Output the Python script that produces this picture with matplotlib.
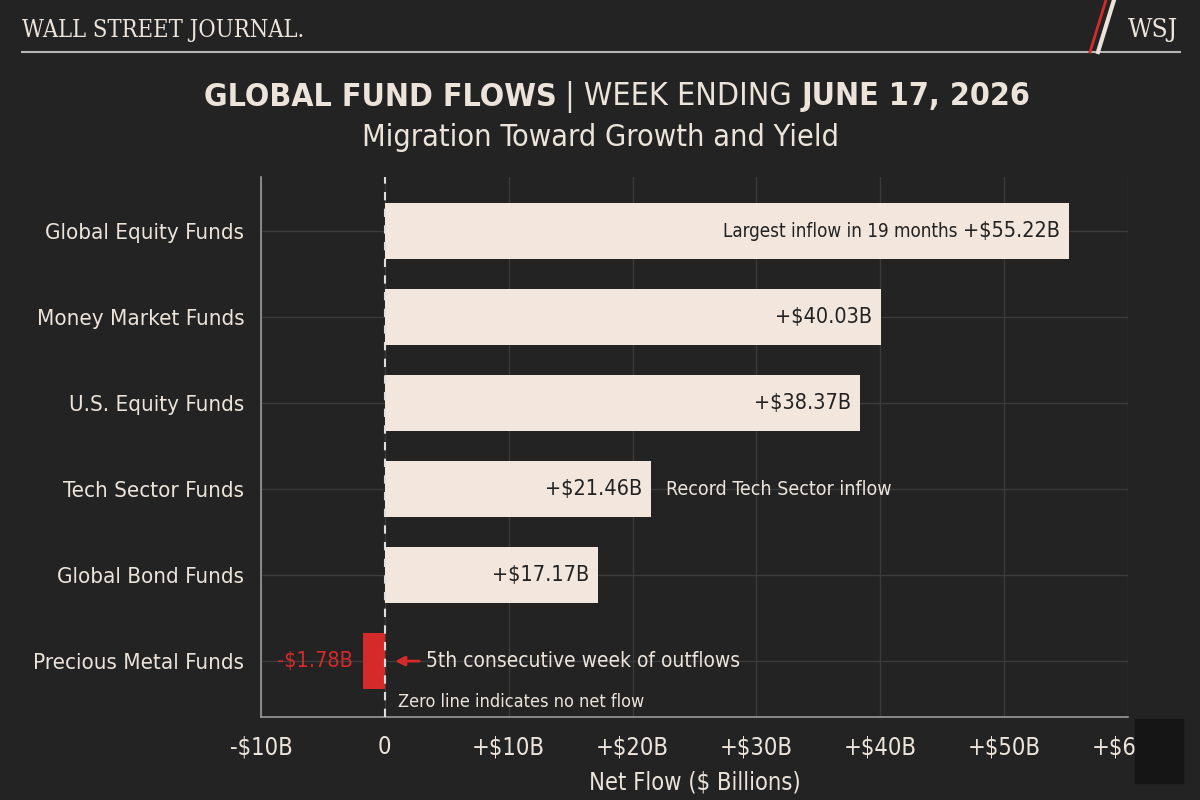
import matplotlib
matplotlib.use('Agg')
import matplotlib.pyplot as plt
from matplotlib import font_manager
from matplotlib.lines import Line2D
from matplotlib.patches import Rectangle

categories = ['Global Equity Funds', 'Money Market Funds', 'U.S. Equity Funds',
              'Tech Sector Funds', 'Global Bond Funds', 'Precious Metal Funds']
flows = [55.22, 40.03, 38.37, 21.46, 17.17, -1.78]
value_labels = ['+$55.22B', '+$40.03B', '+$38.37B', '+$21.46B', '+$17.17B', '-$1.78B']
tick_vals = [-10, 0, 10, 20, 30, 40, 50, 60]
tick_labels = ['-$10B', '0', '+$10B', '+$20B', '+$30B', '+$40B', '+$50B', '+$60B']

BG = '#232323'
CREAM = '#f3e6dc'
TXT = '#ece4da'
RED = '#d42a2a'
GRID = '#3b3b3b'

names = {f.name for f in font_manager.fontManager.ttflist}
if 'Liberation Sans Narrow' in names:
    SANS = dict(family='Liberation Sans Narrow')
else:
    SANS = dict(family='DejaVu Sans', stretch='condensed')
SERIF = dict(family='DejaVu Serif', stretch='condensed')

fig = plt.figure(figsize=(12, 8), dpi=100, facecolor=BG)
W, H = 1200, 800
ax = fig.add_axes([261 / W, 1 - 717 / H, (1128 - 261) / W, (717 - 177) / H])
ax.set_facecolor(BG)

ypos = list(range(len(categories)))
colors = [RED if v < 0 else CREAM for v in flows]
ax.barh(ypos, flows, height=0.65, color=colors, zorder=3)

ax.set_xlim(-10, 60)
ax.set_ylim(5.65, -0.63)
ax.set_xticks(tick_vals)
ax.set_xticklabels(tick_labels, color=TXT, fontsize=17, **SANS)
ax.set_yticks(ypos)
ax.set_yticklabels(categories, color=TXT, fontsize=16, **SANS)
ax.tick_params(axis='y', length=0, pad=12)
ax.tick_params(axis='x', length=0, pad=13)
ax.grid(True, color=GRID, lw=1, zorder=0)
for s in ['top', 'right']:
    ax.spines[s].set_visible(False)
for s in ['left', 'bottom']:
    ax.spines[s].set_color('#9a9a9a')
    ax.spines[s].set_linewidth(1.2)
ax.set_xlabel('Net Flow ($ Billions)', color=TXT, fontsize=17, labelpad=8, **SANS)

ax.axvline(0, color='#dddddd', lw=1.5, ls=(0, (4, 4)), zorder=4)

# value labels
for i, (v, lab) in enumerate(zip(flows, value_labels)):
    if v > 0:
        ax.text(v - 0.7, i, lab, ha='right', va='center', color='#222222',
                fontsize=15.5, zorder=5, **SANS)
    else:
        ax.text(v - 0.8, i, lab, ha='right', va='center', color=RED,
                fontsize=15.5, zorder=5, **SANS)

ax.text(46.2, 0, 'Largest inflow in 19 months', ha='right', va='center',
        color='#222222', fontsize=13.5, zorder=5, **SANS)
ax.text(22.7, 3, 'Record Tech Sector inflow', ha='left', va='center',
        color=TXT, fontsize=14, zorder=5, **SANS)
ax.annotate('', xy=(0.6, 5), xytext=(3.0, 5),
            arrowprops=dict(arrowstyle='-|>', color=RED, lw=2, mutation_scale=14), zorder=5)
ax.text(3.3, 5, '5th consecutive week of outflows', ha='left', va='center',
        color=TXT, fontsize=15, zorder=5, **SANS)
ax.text(1.1, 5.48, 'Zero line indicates no net flow', ha='left', va='center',
        color=TXT, fontsize=13, zorder=5, **SANS)

# header
fig.text(22 / W, 1 - 30 / H, 'WALL STREET JOURNAL.', color=TXT, fontsize=17,
         ha='left', va='center', **SERIF)
fig.text(1178 / W, 1 - 30 / H, 'WSJ', color=TXT, fontsize=19,
         ha='right', va='center', **SERIF)
fig.add_artist(Line2D([22 / W, 1180 / W], [1 - 52 / H, 1 - 52 / H],
                      color='#b5b5b5', lw=1.5))
fig.add_artist(Line2D([1090 / W, 1106 / W], [1 - 52 / H, 1.0], color=RED, lw=2))
fig.add_artist(Line2D([1098 / W, 1114 / W], [1 - 52 / H, 1.0], color=TXT, lw=3))

# title in pieces with mixed weight
parts = [('GLOBAL FUND FLOWS', 'bold'), (' | WEEK ENDING ', 'normal'), ('JUNE 17, 2026', 'bold')]
renderer = fig.canvas.get_renderer()
texts = []
for s, wgt in parts:
    t = fig.text(0, 1 - 97 / H, s, color=TXT, fontsize=23, fontweight=wgt,
                 ha='left', va='center', **SANS)
    texts.append(t)
widths = [t.get_window_extent(renderer).width for t in texts]
x = 617 - sum(widths) / 2
for t, w in zip(texts, widths):
    t.set_x(x / W)
    x += w

fig.text(600 / W, 1 - 137 / H, 'Migration Toward Growth and Yield', color=TXT,
         fontsize=22, ha='center', va='center', **SANS)

# logo box bottom right
fig.add_artist(Rectangle((1135 / W, 1 - 783 / H), 48 / W, 64 / H,
                         transform=fig.transFigure, color='#151515', zorder=10))

fig.savefig('out.png', dpi=100, facecolor=BG)
